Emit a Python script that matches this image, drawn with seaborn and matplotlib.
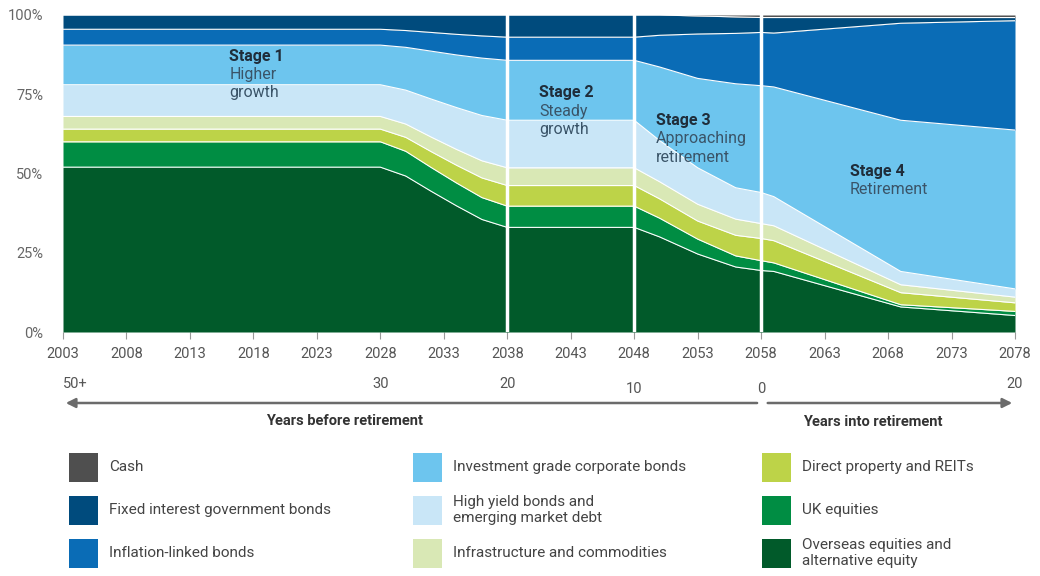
import numpy as np
import matplotlib
matplotlib.use("Agg")
import matplotlib.pyplot as plt
import seaborn as sns
from matplotlib.patches import Rectangle

sns.set_theme(style="white")
plt.rcParams["font.family"] = ["Roboto", "DejaVu Sans"]

# glide path, % of portfolio per asset class (bottom of stack first)
years = [2003, 2028, 2030, 2032, 2034, 2036, 2038, 2048, 2050, 2053, 2056, 2058, 2059, 2069, 2078]
overseas = [52, 52, 49.2, 44.4, 39.8, 35.5, 33, 33, 30.0, 24.6, 20.5, 19.4, 19.1, 7.9, 5.2]
uk_eq = [8, 8, 7.8, 7.5, 7.2, 6.9, 6.7, 6.7, 5.9, 4.7, 3.5, 3.1, 2.7, 0.7, 1.3]
property_reits = [4, 4, 4.4, 5.0, 5.6, 6.2, 6.5, 6.5, 6.1, 5.7, 6.5, 7.0, 7.0, 3.8, 2.7]
infra = [4, 4, 4.2, 4.6, 5.0, 5.4, 5.6, 5.6, 5.4, 5.3, 5.1, 4.7, 4.7, 2.5, 1.8]
high_yield = [10, 10, 10.7, 12.0, 13.2, 14.3, 15, 15, 13.0, 11.5, 9.9, 9.8, 9.2, 4.2, 2.6]
ig_corp = [12.5, 12.5, 13.5, 15.1, 16.6, 18.1, 18.9, 18.9, 23.2, 28.2, 32.8, 33.7, 34.6, 47.7, 50.1]
infl_linked = [5, 5, 5.3, 5.9, 6.5, 7.0, 7.3, 7.3, 10.0, 14.0, 15.9, 16.8, 17.0, 30.6, 34.5]
fixed_gov = [4.5, 4.5, 4.9, 5.5, 6.1, 6.6, 7, 7, 6.4, 5.7, 5.2, 4.7, 4.9, 1.8, 1.0]
cash = [0, 0, 0, 0, 0, 0, 0, 0, 0, 0.3, 0.6, 0.8, 0.8, 0.8, 0.8]

series = [overseas, uk_eq, property_reits, infra, high_yield, ig_corp, infl_linked, fixed_gov, cash]
colors = ["#015a2a", "#008d43", "#bdd348", "#d9e8b5", "#c9e6f7", "#6dc5ee", "#0a6cb6", "#004b7d", "#4f4f4f"]

stage_lines = [2038, 2048, 2058]
year_ticks = list(range(2003, 2079, 5))
before_labels = ["50+", "30", "20", "10", "0", "20"]
before_pos = [2004, 2028, 2038, 2048, 2058, 2078]

legend_labels = [
    ["Cash", "Fixed interest government bonds", "Inflation-linked bonds"],
    ["Investment grade corporate bonds", "High yield bonds and\nemerging market debt", "Infrastructure and commodities"],
    ["Direct property and REITs", "UK equities", "Overseas equities and\nalternative equity"],
]
legend_colors = [
    ["#4f4f4f", "#004b7d", "#0a6cb6"],
    ["#6dc5ee", "#c9e6f7", "#d9e8b5"],
    ["#bdd348", "#008d43", "#015a2a"],
]

W, H = 1040, 576
fig = plt.figure(figsize=(W / 100, H / 100), dpi=100)
ax = fig.add_axes([63 / W, 1 - 332 / H, (1015 - 63) / W, (332 - 15) / H])

ax.stackplot(years, *series, colors=colors, linewidth=0)
tops = np.cumsum(np.array(series), axis=0)
for row in tops[:-1]:
    ax.plot(years, row, color="white", lw=0.8)

for x in stage_lines:
    ax.axvline(x, color="white", lw=2.5)

ax.set_xlim(2003, 2078)
ax.set_ylim(0, 100)
ax.set_xticks(year_ticks)
ax.set_yticks([0, 25, 50, 75, 100])
ax.set_yticklabels(["0%", "25%", "50%", "75%", "100%"])
ax.tick_params(axis="x", length=5, width=0.8, color="#999999", pad=6, labelsize=10.5, labelcolor="#555555", bottom=True)
ax.tick_params(axis="y", length=0, pad=14, labelsize=10.5, labelcolor="#666666")
for s in ax.spines.values():
    s.set_visible(False)

# stage annotations
stages = [
    (2016.1, 86.8, "Stage 1", ["Higher", "growth"]),
    (2040.5, 75.4, "Stage 2", ["Steady", "growth"]),
    (2049.7, 66.6, "Stage 3", ["Approaching", "retirement"]),
    (2065.0, 50.5, "Stage 4", ["Retirement"]),
]
for x, y, title, desc in stages:
    ax.text(x, y, title, fontsize=11.5, fontweight="bold", color="#1f2d3a", va="center", ha="left")
    for i, d in enumerate(desc):
        ax.text(x, y - 5.7 * (i + 1), d, fontsize=11.5, color="#3a5468", va="center", ha="left")

# years before / into retirement
tr = ax.get_xaxis_transform()
def ay(py):
    return (332 - py) / 317

for lab, x in zip(before_labels, before_pos):
    yy = 389 if lab in ("10", "0") else 384
    ax.text(x, ay(yy), lab, transform=tr, ha="center", va="center", fontsize=10.5, color="#555555")

arrow = dict(arrowstyle="-|>", color="#6b6b6b", lw=1.8, mutation_scale=14)
ax.annotate("", xy=(2003, ay(403)), xytext=(2057.9, ay(403)), xycoords=tr, textcoords=tr,
            arrowprops=arrow, annotation_clip=False)
ax.annotate("", xy=(2078, ay(403)), xytext=(2058.3, ay(403)), xycoords=tr, textcoords=tr,
            arrowprops=arrow, annotation_clip=False)
ax.text(2025.2, ay(421), "Years before retirement", transform=tr, ha="center", va="center",
        fontsize=10.5, fontweight="bold", color="#333333")
ax.text(2066.8, ay(422), "Years into retirement", transform=tr, ha="center", va="center",
        fontsize=10.5, fontweight="bold", color="#333333")

# legend
col_x = [69, 413, 762]
row_y = [467, 510, 553]
for c in range(3):
    for r in range(3):
        x0, yc = col_x[c], row_y[r]
        fig.add_artist(Rectangle((x0 / W, 1 - (yc + 14.5) / H), 29 / W, 29 / H,
                                 transform=fig.transFigure, color=legend_colors[c][r], lw=0))
        fig.text((x0 + 40) / W, 1 - yc / H, legend_labels[c][r], fontsize=11, color="#444444",
                 va="center", ha="left", linespacing=1.25)

fig.savefig("out.png", dpi=100)
